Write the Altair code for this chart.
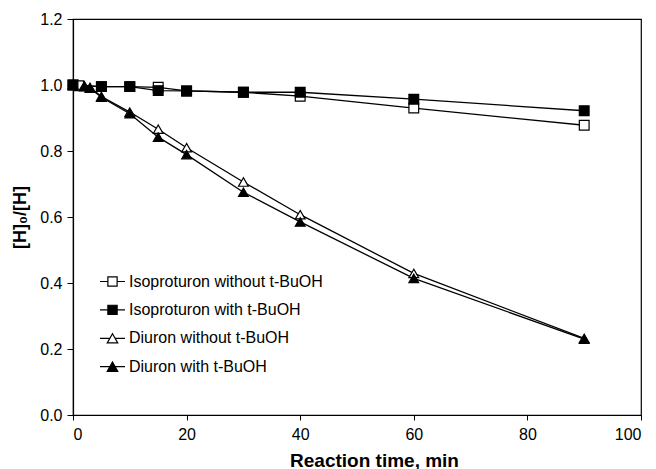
import altair as alt
import pandas as pd

series_names = [
    "Isoproturon without t-BuOH",
    "Isoproturon with t-BuOH",
    "Diuron without t-BuOH",
    "Diuron with t-BuOH",
]

iso_wo_t = [0, 1, 5, 10, 15, 20, 30, 40, 60, 90]
iso_wo_v = [1.0, 0.998, 0.995, 0.995, 0.993, 0.982, 0.978, 0.966, 0.930, 0.878]

iso_w_t = [0, 5, 10, 15, 20, 30, 40, 60, 90]
iso_w_v = [1.0, 0.995, 0.995, 0.983, 0.982, 0.978, 0.978, 0.957, 0.922]

diu_wo_t = [0, 2, 3, 5, 10, 15, 20, 30, 40, 60, 90]
diu_wo_v = [1.0, 0.998, 0.993, 0.965, 0.918, 0.866, 0.810, 0.706, 0.607, 0.429, 0.232]

diu_w_t = [0, 2, 3, 5, 10, 15, 20, 30, 40, 60, 90]
diu_w_v = [1.0, 0.995, 0.990, 0.963, 0.913, 0.842, 0.789, 0.675, 0.585, 0.414, 0.230]

x_ticks = [0, 20, 40, 60, 80, 100]
y_ticks = [0.0, 0.2, 0.4, 0.6, 0.8, 1.0, 1.2]

rows = []
for name, ts, vs in zip(series_names,
                        [iso_wo_t, iso_w_t, diu_wo_t, diu_w_t],
                        [iso_wo_v, iso_w_v, diu_wo_v, diu_w_v]):
    for t, v in zip(ts, vs):
        rows.append({"series": name, "time": t, "value": v})
df = pd.DataFrame(rows)

FONT = "Liberation Sans"

x_enc = alt.X("time:Q",
              scale=alt.Scale(domain=[0, 100], nice=False, zero=False),
              axis=alt.Axis(values=x_ticks, title="Reaction time, min",
                            titleX=301, titleY=51, titleBaseline="alphabetic",
                            titleAlign="center", titleAnchor=None))
y_enc = alt.Y("value:Q",
              scale=alt.Scale(domain=[0, 1.2], nice=False),
              axis=alt.Axis(values=y_ticks, format=".1f", title="[H]₀/[H]",
                            titlePadding=10))

base = alt.Chart(df).encode(x=x_enc, y=y_enc)

lines = base.mark_line(color="black", strokeWidth=1.3).encode(
    detail="series:N"
)

shape_range = ["square", "square", "triangle-up", "triangle-up"]
fill_range = ["white", "black", "white", "black"]
stroke_range = ["black", "black", "black", "black"]

points = base.mark_point(filled=True, stroke="black", strokeWidth=1.2,
                         size=95, opacity=1).encode(
    shape=alt.Shape("series:N", scale=alt.Scale(domain=series_names, range=shape_range), legend=None),
    fill=alt.Fill("series:N", scale=alt.Scale(domain=series_names, range=fill_range), legend=None),
)

sq_path = "M-1,0H-0.37M0.37,0H1M-0.37,-0.37H0.37V0.37H-0.37Z"
tri_path = "M-1,0H-0.21M0.21,0H1M0,-0.37L0.42,0.37L-0.42,0.37Z"
legend_shapes = [sq_path, sq_path, tri_path, tri_path]

leg = alt.Legend(title=None)
legend_layer = base.mark_point(filled=True, opacity=0, strokeWidth=1.2).encode(
    shape=alt.Shape("series:N",
                    scale=alt.Scale(domain=series_names, range=legend_shapes),
                    legend=leg),
    fill=alt.Fill("series:N",
                  scale=alt.Scale(domain=series_names, range=fill_range),
                  legend=leg),
    stroke=alt.Stroke("series:N",
                      scale=alt.Scale(domain=series_names, range=stroke_range),
                      legend=leg),
)

chart = alt.layer(lines, points, legend_layer).resolve_scale(
    shape="independent", fill="independent", stroke="independent"
).properties(
    width=568, height=396,
    autosize=alt.AutoSizeParams(type="none"),
    padding={"left": 73, "top": 19, "right": 15, "bottom": 54},
).configure_view(
    stroke="black", strokeWidth=1.2
).configure_axis(
    grid=False, domainColor="black", domainWidth=1.2,
    tickColor="black", tickWidth=1, tickSize=6,
    labelFont=FONT, labelFontSize=16, labelColor="black", labelPadding=5,
    titleFont=FONT, titleFontSize=18, titleFontWeight="bold", titleColor="black",
).configure_axisX(
    tickSize=5, labelPadding=6, titleFontSize=19,
).configure_legend(
    orient="none", legendX=26, legendY=249, padding=0,
    symbolSize=625, symbolStrokeWidth=1.2,
    symbolOpacity=1, labelFont=FONT, labelFontSize=16, labelColor="black",
    labelOffset=3, rowPadding=6.4, labelLimit=400,
)

chart.save("out.html", embed_options={"renderer": "svg", "actions": False})
